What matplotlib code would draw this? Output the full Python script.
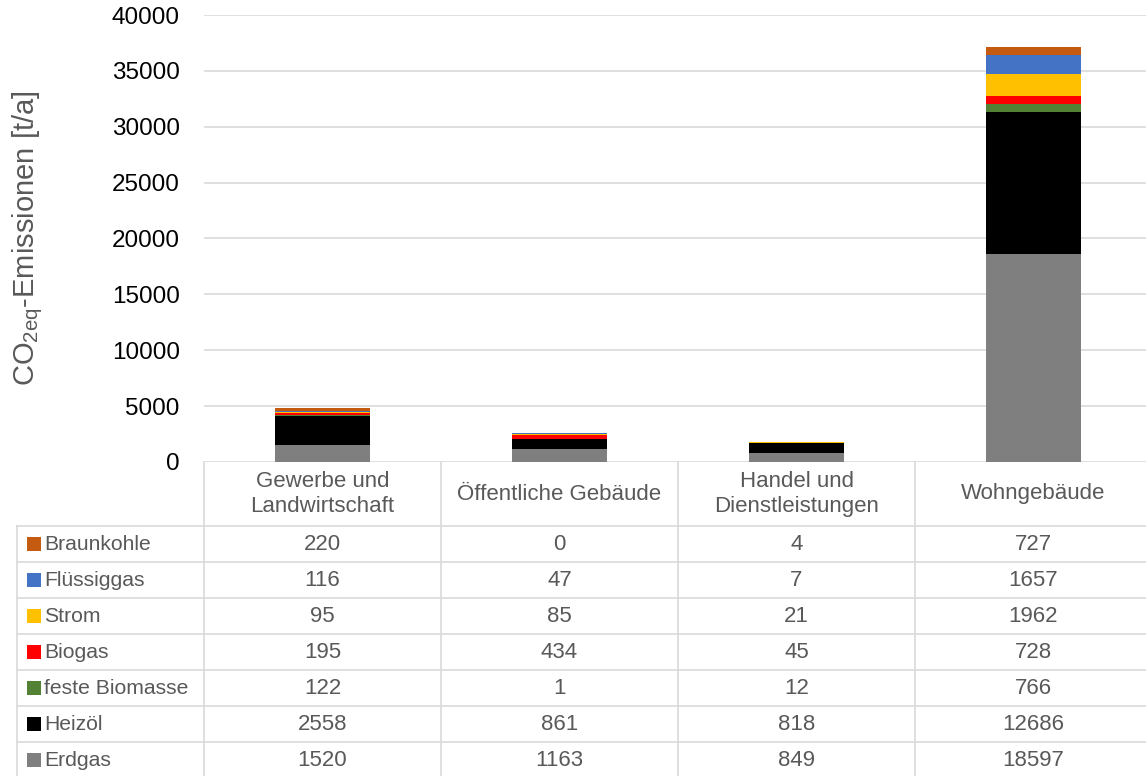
import matplotlib
matplotlib.use("Agg")
import matplotlib.pyplot as plt
from matplotlib.patches import Rectangle
from matplotlib.transforms import blended_transform_factory

plt.rcParams['font.family'] = ['Liberation Sans', 'DejaVu Sans']

categories = ["Gewerbe und\nLandwirtschaft", "Öffentliche Gebäude",
              "Handel und\nDienstleistungen", "Wohngebäude"]

# stacked bottom -> top
series = ["Erdgas", "Heizöl", "feste Biomasse", "Biogas", "Strom", "Flüssiggas", "Braunkohle"]
erdgas = [1520, 1163, 849, 18597]
heizoel = [2558, 861, 818, 12686]
biomasse = [122, 1, 12, 766]
biogas = [195, 434, 45, 728]
strom = [95, 85, 21, 1962]
fluessiggas = [116, 47, 7, 1657]
braunkohle = [220, 0, 4, 727]
values = [erdgas, heizoel, biomasse, biogas, strom, fluessiggas, braunkohle]
colors = ["#7f7f7f", "#000000", "#548235", "#ff0000", "#ffc000", "#4472c4", "#c55a11"]

yticks = [0, 5000, 10000, 15000, 20000, 25000, 30000, 35000, 40000]

W, H = 1146, 776
GRID = "#d9d9d9"
TXT = "#595959"
FS = 16

fig = plt.figure(figsize=(W / 100, H / 100), dpi=100)
ax = fig.add_axes([204 / W, (H - 462) / H, 948 / W, 447 / H])

x = list(range(len(categories)))
bottom = [0] * len(categories)
for name, vals, c in zip(series, values, colors):
    ax.bar(x, vals, width=0.4, bottom=bottom, color=c, label=name, zorder=3)
    bottom = [b + v for b, v in zip(bottom, vals)]

ax.set_xlim(-0.5, 3.5)
ax.set_ylim(0, 40000)
ax.set_yticks(yticks)
ax.set_yticklabels([str(t) for t in yticks])
ax.set_xticks([])
ax.tick_params(axis='y', length=0, pad=17.5, labelsize=17.5, labelcolor="#000000")
ax.yaxis.grid(True, color=GRID, linewidth=1.2, zorder=0)
for s in ax.spines.values():
    s.set_visible(False)
ax.set_ylabel("CO$_\\mathregular{2eq}$-Emissionen [t/a]", fontsize=21, color=TXT)
ax.yaxis.set_label_coords(-0.168, 0.5)

# data table drawn underneath the plot area, pixel coordinates
tab = fig.add_axes([0, 0, 1, 1])
tab.set_xlim(0, W)
tab.set_ylim(H, 0)
tab.axis('off')
trans = blended_transform_factory(ax.transData, tab.transData)

top, head_bottom, row_h = 462, 526, 36
n_rows = len(series)
for k in range(n_rows + 1):
    y = head_bottom + k * row_h
    tab.plot([17, W + 10], [y, y], color=GRID, lw=1.2, clip_on=False)
tab.plot([17, 17], [head_bottom, H + 10], color=GRID, lw=1.2, clip_on=False)
for i in range(len(categories) + 1):
    b = i - 0.5
    tab.plot([b, b], [top, H + 10], color=GRID, lw=1.2, transform=trans, clip_on=False)

for i, cat in enumerate(categories):
    tab.text(i, (top + head_bottom) / 2, cat, transform=trans, ha='center', va='center',
             fontsize=FS, color=TXT, linespacing=1.25)

for r, idx in enumerate(reversed(range(n_rows))):
    yc = head_bottom + r * row_h + row_h / 2
    tab.add_patch(Rectangle((27, yc - 7), 14, 14, color=colors[idx], lw=0))
    tab.text(44, yc, series[idx], ha='left', va='center', fontsize=15.2, color=TXT)
    for i, v in enumerate(values[idx]):
        tab.text(i, yc, str(v), transform=trans, ha='center', va='center',
                 fontsize=FS, color=TXT)

fig.savefig("out.png", dpi=100)
